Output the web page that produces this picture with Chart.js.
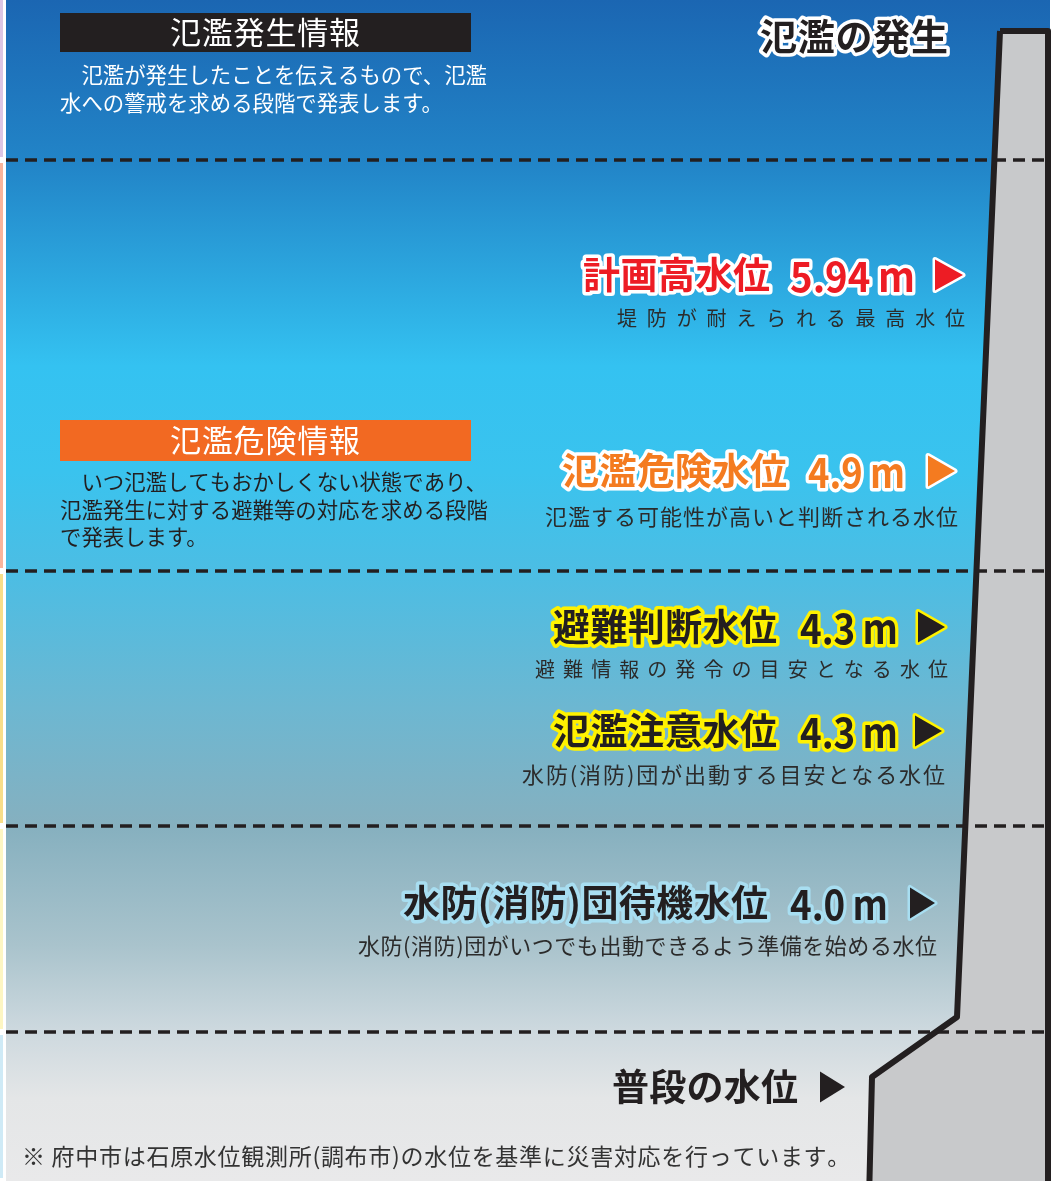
<!DOCTYPE html>
<html lang="ja">
<head>
<meta charset="utf-8">
<title>氾濫の発生</title>
<script src="https://cdn.jsdelivr.net/npm/chart.js@4.4.1/dist/chart.umd.min.js"></script>
<style>
html, body { margin: 0; padding: 0; background: #fff; }
#wrap { width: 1063px; height: 1181px; }
</style>
</head>
<body>
<div id="wrap"><canvas id="chartLevels" width="1063" height="1181"></canvas></div>
<script>
// stage boundaries, picture units (0 = top)
var stageBounds = [160, 571, 826, 1032];

// levee outline
var leveeX = [1000, 1048, 1048, 869, 872, 957, 1000];
var leveeY = [31, 31, 1200, 1200, 1077, 1017, 31];

var levelNames = ['計画高水位', '氾濫危険水位', '避難判断水位', '氾濫注意水位', '水防(消防)団待機水位', '普段の水位'];
var levelValues = ['5.94', '4.9', '4.3', '4.3', '4.0', ''];
var levelNotes = [
	'堤防が耐えられる最高水位',
	'氾濫する可能性が高いと判断される水位',
	'避難情報の発令の目安となる水位',
	'水防(消防)団が出動する目安となる水位',
	'水防(消防)団がいつでも出動できるよう準備を始める水位',
	''
];

var infoTitles = ['氾濫発生情報', '氾濫危険情報'];
var infoLines = [
	['　氾濫が発生したことを伝えるもので、氾濫', '水への警戒を求める段階で発表します。'],
	['　いつ氾濫してもおかしくない状態であり、', '氾濫発生に対する避難等の対応を求める段階', 'で発表します。']
];
var stageTitle = '氾濫の発生';
var footNote = '※ 府中市は石原水位観測所(調布市)の水位を基準に災害対応を行っています。';

// layout (picture units)
var rows = [
	{ y: 275, name: [583, 770], val: [790, 915], tri: [935, 963], noteY: 318, note: [617, 965], noteSize: 20 },
	{ y: 471, name: [562, 787], val: [808, 905], tri: [928, 955], noteY: 517, note: [545, 958], noteSize: 22 },
	{ y: 627, name: [553, 777], val: [800, 898], tri: [918, 945], noteY: 669, note: [535, 948], noteSize: 20 },
	{ y: 731, name: [553, 777], val: [800, 898], tri: [915, 942], noteY: 775, note: [522, 945], noteSize: 22 },
	{ y: 903, name: [403, 768], val: [790, 888], tri: [910, 935], noteY: 946, note: [358, 937], noteSize: 22 },
	{ y: 1087, name: [612, 798], val: null, tri: [820, 845] }
];
var rowFill = ['#ed1c24', '#f47b20', '#231f20', '#231f20', '#231f20', '#231f20'];
var rowEdge = ['#ffffff', '#ffffff', '#fff200', '#fff200', '#a8def1', null];
var infoBoxes = [
	{ x0: 60, y0: 13, x1: 471, y1: 52, fill: '#231f20', lines: 75, text: '#ffffff' },
	{ x0: 60, y0: 420, x1: 471, y1: 461, fill: '#f26922', lines: 482, text: '#231f20' }
];

var JP = '"Noto Sans CJK JP", "Noto Sans", sans-serif';

// draws text into [left, right]: letter spacing if short, squeeze if long
function fitText(ctx, text, left, right, y, fill, edge, edgeW) {
	let chars = Array.from(text);
	let w = ctx.measureText(text).width;
	let target = right - left;
	ctx.save();
	ctx.textAlign = 'left';
	ctx.textBaseline = 'middle';
	ctx.lineJoin = 'round';
	let paint = (s, x) => {
		if (edge) {
			ctx.strokeStyle = edge;
			ctx.lineWidth = edgeW;
			ctx.strokeText(s, x, y);
		}
		ctx.fillStyle = fill;
		ctx.fillText(s, x, y);
	};
	if (w < target && chars.length > 1) {
		let gap = (target - w) / (chars.length - 1);
		let x = left;
		chars.forEach(c => {
			paint(c, x);
			x += ctx.measureText(c).width + gap;
		});
	} else {
		ctx.translate(left, 0);
		ctx.scale(target / w, 1);
		paint(text, 0);
	}
	ctx.restore();
}

function triangle(ctx, l, r, y, h, fill, edge) {
	ctx.save();
	ctx.beginPath();
	ctx.moveTo(l, y - h / 2);
	ctx.lineTo(l, y + h / 2);
	ctx.lineTo(r, y);
	ctx.closePath();
	if (edge) {
		ctx.lineJoin = 'round';
		ctx.strokeStyle = edge;
		ctx.lineWidth = 5;
		ctx.stroke();
	}
	ctx.fillStyle = fill;
	ctx.fill();
	ctx.restore();
}

var backdrop = {
	id: 'backdrop',
	beforeDraw(chart) {
		let ctx = chart.ctx;
		let sx = chart.scales.x, sy = chart.scales.y;
		let top = sy.getPixelForValue(0), bottom = sy.getPixelForValue(1181);
		ctx.save();
		ctx.fillStyle = '#ffffff';
		ctx.fillRect(0, 0, chart.width, chart.height);

		let g = ctx.createLinearGradient(0, top, 0, bottom);
		g.addColorStop(0.00, '#1b66b2');
		g.addColorStop(0.14, '#2285c8');
		g.addColorStop(0.31, '#34c2f1');
		g.addColorStop(0.40, '#3ac3ee');
		g.addColorStop(0.49, '#4dbde3');
		g.addColorStop(0.60, '#6db7d1');
		g.addColorStop(0.70, '#86b0bf');
		g.addColorStop(0.80, '#a9c3cc');
		g.addColorStop(0.87, '#ccd8de');
		g.addColorStop(0.93, '#e4e6e7');
		g.addColorStop(1.00, '#e9e9ea');
		ctx.fillStyle = g;
		let x0 = sx.getPixelForValue(6), x1 = sx.getPixelForValue(1050);
		ctx.fillRect(x0, top, x1 - x0, bottom - top);

		// thin coloured stripe on the left edge
		let stripe = ['#dcc6e4', '#f9b59c', '#f8de8a', '#fdf6c3', '#cfeaf6'];
		let edges = [0].concat(stageBounds, [1181]);
		stripe.forEach((c, i) => {
			let a = sy.getPixelForValue(edges[i]) + (i ? 3 : 0);
			let b = sy.getPixelForValue(edges[i + 1]) - 3;
			ctx.fillStyle = c;
			ctx.fillRect(0, a, 3, b - a);
		});
		ctx.restore();
	}
};

var labels = {
	id: 'labels',
	afterDatasetsDraw(chart) {
		let ctx = chart.ctx;
		let sx = chart.scales.x, sy = chart.scales.y;
		let X = v => sx.getPixelForValue(v);
		let Y = v => sy.getPixelForValue(v);

		// information boxes
		infoBoxes.forEach((b, i) => {
			ctx.fillStyle = b.fill;
			ctx.fillRect(X(b.x0), Y(b.y0), X(b.x1) - X(b.x0), Y(b.y1) - Y(b.y0));
			ctx.font = '31px ' + JP;
			fitText(ctx, infoTitles[i], X(170), X(360), Y((b.y0 + b.y1) / 2), '#ffffff');
			ctx.font = '21.4px ' + JP;
			ctx.textAlign = 'left';
			ctx.textBaseline = 'middle';
			ctx.fillStyle = b.text;
			infoLines[i].forEach((line, j) => {
				ctx.fillText(line, X(60), Y(b.lines + j * 27.5));
			});
		});

		// stage title
		ctx.font = 'bold 37px ' + JP;
		fitText(ctx, stageTitle, X(760), X(948), Y(37), '#231f20', '#ffffff', 7);

		// water levels
		rows.forEach((r, i) => {
			ctx.font = 'bold 37px ' + JP;
			fitText(ctx, levelNames[i], X(r.name[0]), X(r.name[1]), Y(r.y), rowFill[i], rowEdge[i], 7);
			if (r.val) {
				ctx.font = 'bold 41px ' + JP;
				fitText(ctx, levelValues[i] + '\u2009m', X(r.val[0]), X(r.val[1]), Y(r.y + 1), rowFill[i], rowEdge[i], 7);
			}
			triangle(ctx, X(r.tri[0]), X(r.tri[1]), Y(r.y), 31, rowFill[i], rowEdge[i]);
			if (levelNotes[i]) {
				ctx.font = r.noteSize + 'px ' + JP;
				fitText(ctx, levelNotes[i], X(r.note[0]), X(r.note[1]), Y(r.noteY), '#2b2b2b');
			}
		});

		ctx.font = '23px ' + JP;
		fitText(ctx, footNote, X(22), X(848), Y(1156), '#333333');
	}
};

document.addEventListener('DOMContentLoaded', function () {
	let boundarySets = stageBounds.map(b => ({
		data: [{ x: 6, y: b }, { x: 1045, y: b }],
		showLine: true,
		borderColor: '#231f20',
		borderWidth: 3.5,
		borderDash: [12, 7],
		pointRadius: 0,
		fill: false
	}));

	let levee = {
		data: leveeX.map((x, i) => ({ x: x, y: leveeY[i] })),
		showLine: true,
		borderColor: '#231f20',
		borderWidth: 6,
		borderJoinStyle: 'round',
		backgroundColor: '#c8c9cb',
		fill: 'shape',
		tension: 0,
		pointRadius: 0
	};

	let ctx = document.getElementById('chartLevels').getContext('2d');
	new Chart(ctx, {
		type: 'scatter',
		data: { datasets: boundarySets.concat([levee]) },
		options: {
			responsive: false,
			animation: false,
			events: [],
			layout: { padding: 0 },
			plugins: {
				legend: { display: false },
				tooltip: { enabled: false }
			},
			scales: {
				x: { type: 'linear', min: 0, max: 1063, display: false },
				y: { type: 'linear', min: 0, max: 1181, reverse: true, display: false }
			}
		},
		plugins: [backdrop, labels]
	});
});
</script>
</body>
</html>
